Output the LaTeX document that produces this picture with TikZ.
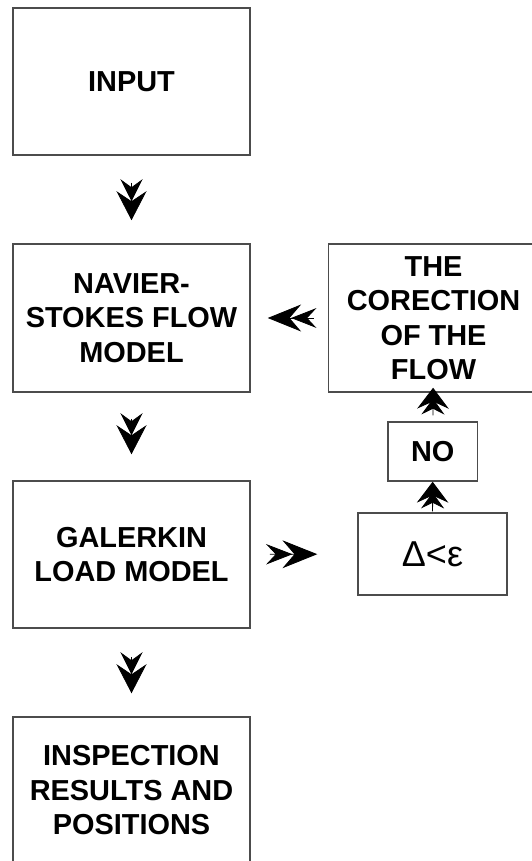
\documentclass[tikz,border=0pt]{standalone}
\usepackage{fontspec}
\setmainfont{Liberation Sans}
\usetikzlibrary{arrows.meta}

\tikzset{
  box/.style={draw=black!70, line width=0.75pt, inner sep=0pt, align=center,
    font=\fontsize{14.45}{17.25}\selectfont\bfseries},
  fletch/.style 2 args={line width=0.4pt,
    -{Stealth[length=11pt, width=11pt, inset=4pt, sep=-5pt, scale length=#1, scale width=#2]
      Stealth[length=14.5pt, width=15pt, inset=5pt, scale length=#1, scale width=#2]}}
}

\begin{document}
\begin{tikzpicture}[x=0.5pt, y=-0.5pt]
\useasboundingbox (0,0) rectangle (531,861);

\node[box, minimum width=118.5pt, minimum height=73.5pt] (input) at (131.5,81.5) {INPUT};
\node[box, minimum width=118.5pt, minimum height=74pt] (navier) at (131.5,318) {NAVIER-\\STOKES FLOW\\MODEL};
\node[box, minimum width=118.5pt, minimum height=73.5pt] (galerkin) at (131.5,554.5) {GALERKIN\\LOAD MODEL};
\node[box, minimum width=118.5pt, minimum height=73.5pt] (results) at (131.5,790.5) {INSPECTION\\RESULTS AND\\POSITIONS};

\node[box, minimum width=105pt, minimum height=74pt] (correction) at (433.5,318) {THE\\CORECTION\\OF THE\\FLOW};
\node[box, minimum width=44.75pt, minimum height=29.5pt] (no) at (432.7,451.5) {NO};
\node[box, minimum width=74.5pt, minimum height=41pt, font=\fontsize{18}{20}\selectfont] (check) at (432.5,554) {Δ<ε};

\draw[fletch={1}{1}, shorten <=13.5pt, shorten >=11.5pt] (input) -- (navier);
\draw[fletch={1}{1}, shorten <=13pt, shorten >=13pt] (navier) -- (galerkin);
\draw[fletch={1}{1}, shorten <=14pt, shorten >=11.5pt] (galerkin) -- (results);

\draw[fletch={1.15}{0.9}, shorten <=7pt, shorten >=8.5pt] (correction) -- (navier);
\draw[fletch={1.2}{0.93}, shorten <=9.5pt, shorten >=20pt] (galerkin) -- (check);

\draw[fletch={0.72}{1.05}, shorten <=0.5pt] (check) -- (no);
\draw[fletch={0.72}{1.05}, shorten <=3pt, shorten >=-2.5pt] (no) -- (correction);

\end{tikzpicture}
\end{document}
